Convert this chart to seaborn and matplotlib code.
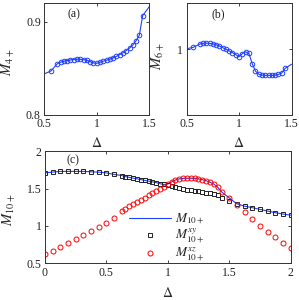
import numpy as np
import matplotlib
matplotlib.use('Agg')
import matplotlib.pyplot as plt
import seaborn as sns
from matplotlib.lines import Line2D

# panel (a): M4+ vs Delta
delta_ab = [0.5625, 0.625, 0.65625, 0.6875, 0.71875, 0.75, 0.78125, 0.8125, 0.84375,
            0.875, 0.90625, 0.9375, 0.96875, 1.0, 1.03125, 1.0625, 1.09375, 1.125,
            1.15625, 1.1875, 1.21875, 1.25, 1.28125, 1.3125, 1.34375, 1.375, 1.40625, 1.4375]
m4 = [0.847, 0.8548, 0.8566, 0.8576, 0.8583, 0.859, 0.8594, 0.8598, 0.8596,
      0.8592, 0.8585, 0.8572, 0.8558, 0.8553, 0.8565, 0.8576, 0.8587, 0.8598,
      0.8612, 0.8628, 0.8646, 0.8667, 0.869, 0.8716, 0.875, 0.8795, 0.8855, 0.9064]
m4_start, m4_end = 0.844, 0.916

# panel (b): M6+ vs Delta
m6 = [1.0026, 1.0076, 1.0087, 1.009, 1.0087, 1.008, 1.0066, 1.0048, 1.0022,
      0.9998, 0.9972, 0.9946, 0.9915, 0.9885, 0.993, 0.9958, 0.9935, 0.978,
      0.9665, 0.9618, 0.9605, 0.9601, 0.96, 0.96, 0.9603, 0.9615, 0.9635, 0.9705]
m6_start, m6_end = 1.0005, 0.977

# panel (c): M10+ and its xy / xz parts
delta_c = [0.0, 0.0625, 0.125, 0.1875, 0.25, 0.3125, 0.375, 0.4375, 0.5, 0.5625,
           0.625, 0.65625, 0.6875, 0.71875, 0.75, 0.78125, 0.8125, 0.84375, 0.875,
           0.90625, 0.9375, 0.96875, 1.0, 1.03125, 1.0625, 1.09375, 1.125, 1.15625,
           1.1875, 1.21875, 1.25, 1.28125, 1.3125, 1.34375, 1.375, 1.40625,
           1.4375, 1.5, 1.5625, 1.625, 1.6875, 1.75, 1.8125, 1.875, 1.9375, 2.0]
m10_xy = [1.71, 1.72, 1.73, 1.73, 1.73, 1.73, 1.725, 1.72, 1.71, 1.69,
          1.675, 1.66, 1.65, 1.64, 1.63, 1.62, 1.61, 1.60, 1.59,
          1.58, 1.565, 1.555, 1.545, 1.535, 1.525, 1.51, 1.50, 1.485,
          1.478, 1.47, 1.462, 1.453, 1.445, 1.437, 1.428, 1.42,
          1.37, 1.33, 1.296, 1.265, 1.245, 1.222, 1.20, 1.178, 1.16, 1.145]
m10_xz = [0.62, 0.664, 0.714, 0.767, 0.82, 0.876, 0.931, 0.989, 1.046, 1.105,
          1.195, 1.23, 1.262, 1.293, 1.32, 1.35, 1.378, 1.408, 1.438,
          1.466, 1.495, 1.525, 1.56, 1.59, 1.615, 1.63, 1.636, 1.638,
          1.638, 1.636, 1.63, 1.62, 1.605, 1.585, 1.56, 1.52,
          1.457, 1.376, 1.275, 1.185, 1.095, 1.005, 0.925, 0.848, 0.768, 0.70]
m10 = [1.71, 1.72, 1.73, 1.73, 1.73, 1.73, 1.725, 1.72, 1.71, 1.69,
       1.675, 1.66, 1.65, 1.64, 1.63, 1.62, 1.61, 1.60, 1.59,
       1.58, 1.565, 1.555, 1.56, 1.59, 1.615, 1.63, 1.636, 1.638,
       1.638, 1.636, 1.63, 1.62, 1.605, 1.585, 1.56, 1.52,
       1.457, 1.376, 1.296, 1.265, 1.245, 1.222, 1.20, 1.178, 1.16, 1.145]

sns.set_theme(style='white')
plt.rcParams['font.family'] = ['Liberation Serif', 'DejaVu Serif']
plt.rcParams['mathtext.fontset'] = 'stix'
plt.rcParams.update({
    'xtick.direction': 'in', 'ytick.direction': 'in',
    'xtick.top': True, 'ytick.right': True,
    'xtick.bottom': True, 'ytick.left': True,
    'xtick.major.size': 2.5, 'ytick.major.size': 2.5,
    'xtick.major.width': 0.6, 'ytick.major.width': 0.6,
    'xtick.major.pad': 2.5, 'ytick.major.pad': 2.5,
    'xtick.labelsize': 8.5, 'ytick.labelsize': 8.5,
    'axes.edgecolor': '#333333', 'axes.linewidth': 0.7,
    'text.color': '#222222', 'xtick.color': '#222222', 'ytick.color': '#222222',
})

fig = plt.figure(figsize=(2.99, 3.0), dpi=100)
ax_a = fig.add_axes([0.148, 0.617, 0.351, 0.373])
ax_b = fig.add_axes([0.624, 0.617, 0.351, 0.373])
ax_c = fig.add_axes([0.150, 0.122, 0.822, 0.374])

blue = '#1f3fff'


def small_panel(ax, ys, y0, y1, ylabel, tag):
    line_x = [0.5] + delta_ab + [1.5]
    line_y = [y0] + ys + [y1]
    sns.lineplot(x=line_x, y=line_y, ax=ax, color=blue, linewidth=0.8, sort=False)
    sns.lineplot(x=delta_ab, y=ys, ax=ax, color=blue, linestyle='', marker='o',
                 markersize=3.3, markerfacecolor='none', markeredgecolor=blue,
                 markeredgewidth=0.7, sort=False)
    ax.set_xlim(0.5, 1.5)
    ax.set_xticks([0.5, 1, 1.5])
    ax.set_xticklabels(['0.5', '1', '1.5'])
    ax.set_xlabel(r'$\Delta$', fontsize=10)
    ax.set_ylabel(ylabel, fontsize=10.5)
    ax.text(0.28, 0.90, tag, transform=ax.transAxes, ha='center', va='center', fontsize=8.5)


small_panel(ax_a, m4, m4_start, m4_end, r'$M_{4+}$', '(a)')
ax_a.set_ylim(0.8, 0.92)
ax_a.set_yticks([0.8, 0.9])
ax_a.set_yticklabels(['0.8', '0.9'])
ax_a.xaxis.set_label_coords(0.5, -0.19)
ax_a.yaxis.set_label_coords(-0.255, 0.47)

small_panel(ax_b, m6, m6_start, m6_end, r'$M_{6+}$', '(b)')
ax_b.texts[0].set_position((0.30, 0.90))
ax_b.set_ylim(0.9, 1.07)
ax_b.set_yticks([1])
ax_b.set_yticklabels(['1'])
ax_b.xaxis.set_label_coords(0.5, -0.19)
ax_b.yaxis.set_label_coords(-0.19, 0.52)

# panel (c)
sns.lineplot(x=delta_c, y=m10, ax=ax_c, color=blue, linewidth=0.8, sort=False)
sns.lineplot(x=delta_c, y=m10_xy, ax=ax_c, color='#222222', linestyle='', marker='s',
             markersize=3.0, markerfacecolor='none', markeredgecolor='#222222',
             markeredgewidth=0.7, sort=False)
sns.lineplot(x=delta_c, y=m10_xz, ax=ax_c, color='red', linestyle='', marker='o',
             markersize=3.6, markerfacecolor='none', markeredgecolor='red',
             markeredgewidth=0.7, sort=False)
ax_c.set_xlim(0, 2)
ax_c.set_ylim(0.5, 2)
ax_c.set_xticks([0, 0.5, 1, 1.5, 2])
ax_c.set_xticklabels(['0', '0.5', '1', '1.5', '2'])
ax_c.set_yticks([0.5, 1, 1.5, 2])
ax_c.set_yticklabels(['0.5', '1', '1.5', '2'])
ax_c.set_xlabel(r'$\Delta$', fontsize=10)
ax_c.set_ylabel(r'$M_{10+}$', fontsize=10.5)
ax_c.xaxis.set_label_coords(0.5, -0.2)
ax_c.yaxis.set_label_coords(-0.11, 0.475)
ax_c.text(0.115, 0.915, '(c)', transform=ax_c.transAxes, ha='center', va='center', fontsize=8.5)

handles = [
    Line2D([], [], color=blue, linewidth=0.8),
    Line2D([], [], color='#222222', linestyle='', marker='s', markersize=3.0,
           markerfacecolor='none', markeredgewidth=0.7),
    Line2D([], [], color='red', linestyle='', marker='o', markersize=3.6,
           markerfacecolor='none', markeredgewidth=0.7),
]
labels = [r'$M_{10+}$', r'$M_{10+}^{xy}$', r'$M_{10+}^{xz}$']
ax_c.legend(handles, labels, loc='upper left', bbox_to_anchor=(0.33, 0.485),
            frameon=False, fontsize=9.5, handlelength=3.2, handletextpad=0.3,
            labelspacing=0.05, borderpad=0.2, borderaxespad=0)

fig.savefig('out.png', dpi=100)
